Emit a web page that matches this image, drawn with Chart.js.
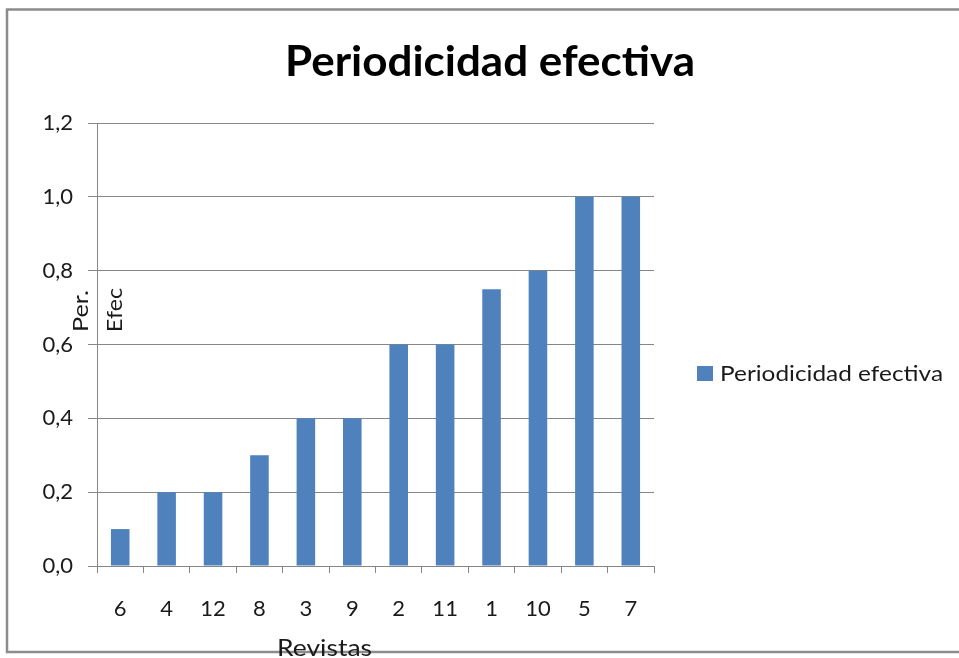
<!DOCTYPE html>
<html>
<head>
<meta charset="utf-8">
<script src="https://cdn.jsdelivr.net/npm/chart.js@4/dist/chart.umd.min.js"></script>
<style>
  html, body { margin: 0; padding: 0; background: #ffffff; }
  #wrap { width: 959px; height: 658px; }
</style>
</head>
<body>
<div id="wrap"><canvas id="c" width="959" height="658"></canvas></div>
<script>
const chartTitle = "Periodicidad efectiva";
const seriesLabel = "Periodicidad efectiva";
const categories = ["6", "4", "12", "8", "3", "9", "2", "11", "1", "10", "5", "7"];
const values = [0.1, 0.2, 0.2, 0.3, 0.4, 0.4, 0.6, 0.6, 0.75, 0.8, 1.0, 1.0];
const yTitleParts = ["Per.", "Efec"];
const xTitle = "Revistas";
const yMin = 0, yMax = 1.2, yStep = 0.2;

const FONT = "Lato, 'Open Sans', sans-serif";
const barColor = "#4F81BD";
const gridColor = "#868686";
const textColor = "#1a1a1a";

function fitText(ctx, text, x, y, targetW) {
  const w = ctx.measureText(text).width;
  ctx.save();
  ctx.translate(x, y);
  ctx.scale(targetW / w, 1);
  ctx.fillText(text, 0, 0);
  ctx.restore();
}

const decorations = {
  id: "decorations",
  afterDraw(chart) {
    const ctx = chart.ctx;
    ctx.save();
    // outer border
    ctx.strokeStyle = "#8c8c8c";
    ctx.lineWidth = 2.5;
    ctx.strokeRect(7, 9.5, 1000, 642.5);

    // title
    ctx.fillStyle = "#000000";
    ctx.font = "bold 42px " + FONT;
    ctx.textAlign = "center";
    ctx.textBaseline = "alphabetic";
    fitText(ctx, chartTitle, 490, 76, 410);

    // y axis title (two pieces, rotated)
    ctx.fillStyle = textColor;
    ctx.font = "21px " + FONT;
    ctx.textAlign = "left";
    const yPos = [[88, 332], [122, 332]];
    const yLens = [42, 44];
    yTitleParts.forEach((t, i) => {
      ctx.save();
      ctx.translate(yPos[i][0], yPos[i][1]);
      ctx.rotate(-Math.PI / 2);
      fitText(ctx, t, 0, 0, yLens[i]);
      ctx.restore();
    });

    // x axis title
    ctx.font = "23px " + FONT;
    ctx.textAlign = "left";
    fitText(ctx, xTitle, 277, 656, 95);

    // legend
    const ds = chart.data.datasets[0];
    ctx.fillStyle = ds.backgroundColor;
    ctx.fillRect(697, 366, 16, 15);
    ctx.fillStyle = textColor;
    ctx.font = "21px " + FONT;
    ctx.textAlign = "left";
    ctx.textBaseline = "middle";
    fitText(ctx, ds.label, 720, 374, 223);
    ctx.restore();
  }
};

new Chart(document.getElementById("c"), {
  type: "bar",
  data: {
    labels: categories,
    datasets: [{
      label: seriesLabel,
      data: values,
      backgroundColor: barColor,
      borderWidth: 0,
      categoryPercentage: 1.0,
      barPercentage: 0.4
    }]
  },
  options: {
    responsive: false,
    animation: false,
    devicePixelRatio: 1,
    layout: { padding: { left: 0, right: 305, top: 123, bottom: 0 } },
    plugins: {
      legend: { display: false },
      title: { display: false },
      tooltip: { enabled: false }
    },
    scales: {
      x: {
        afterFit(scale) { scale.height = 92; },
        grid: { display: true, drawOnChartArea: false, drawTicks: true, tickLength: 7, color: gridColor, lineWidth: 1 },
        border: { display: true, color: gridColor, width: 1 },
        ticks: { color: textColor, font: { family: FONT, size: 22 }, padding: 23, maxRotation: 0, autoSkip: false }
      },
      y: {
        min: yMin,
        max: yMax,
        afterFit(scale) { scale.width = 97; },
        grid: { color: gridColor, lineWidth: 1, tickLength: 9, drawTicks: true },
        border: { display: true, color: gridColor, width: 1 },
        ticks: {
          stepSize: yStep,
          color: textColor,
          font: { family: FONT, size: 22 },
          padding: 15,
          callback: (v) => Number(v).toFixed(1).replace(".", ",")
        }
      }
    }
  },
  plugins: [decorations]
});
</script>
</body>
</html>
